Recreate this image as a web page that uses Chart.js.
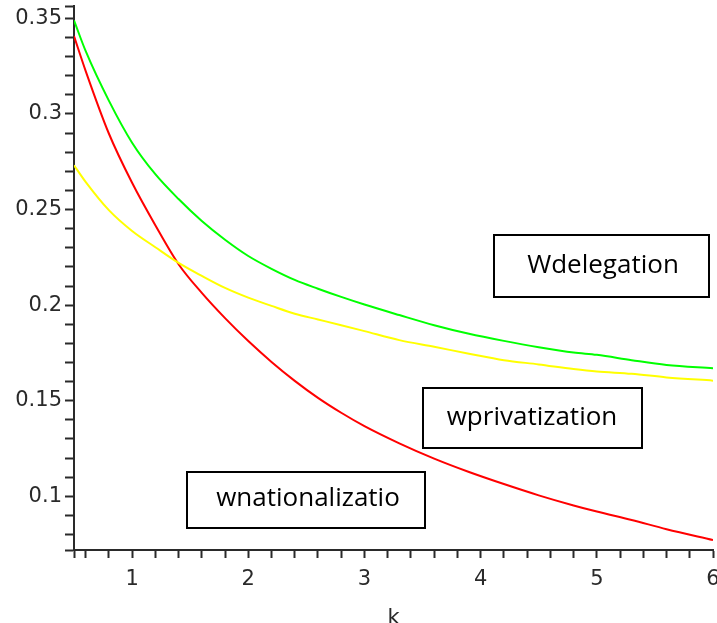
<!DOCTYPE html>
<html lang="en">
<head>
    <meta charset="UTF-8">
    <title>W curves vs k</title>
    <script src="https://cdn.jsdelivr.net/npm/chart.js"></script>
    <style>
        body { margin: 0; background: #fff; }
        #wrap { width: 717px; height: 623px; position: relative; }
    </style>
</head>
<body>
    <div id="wrap"><canvas id="wChart"></canvas></div>

    <script>
        const kValues = [0.5, 0.6, 0.8, 1.0, 1.2, 1.4, 1.6, 1.8, 2.0, 2.2, 2.4, 2.6,
                         2.8, 3.0, 3.3, 3.6, 3.9, 4.2, 4.5, 4.8, 5.0, 5.3, 5.6, 6.0];

        // green curve
        const wDelegation = [0.349, 0.333, 0.307, 0.285, 0.2685, 0.2555, 0.244, 0.2342, 0.2257, 0.219, 0.2132, 0.2086,
                             0.2043, 0.2003, 0.1948, 0.1895, 0.185, 0.1813, 0.178, 0.1752, 0.174, 0.1712, 0.1687, 0.167];
        // yellow curve
        const wPrivatization = [0.2732, 0.2645, 0.2497, 0.2388, 0.2303, 0.2221, 0.2153, 0.209, 0.2039, 0.1996, 0.1955, 0.1925,
                                0.1895, 0.1864, 0.1817, 0.1782, 0.1746, 0.1712, 0.169, 0.1666, 0.1653, 0.1641, 0.1622, 0.1605];
        // red curve
        const wNationalization = [0.3408, 0.3226, 0.2898, 0.264, 0.2418, 0.2214, 0.2064, 0.1932, 0.1812, 0.1703, 0.1604, 0.1515,
                                  0.1437, 0.1367, 0.1277, 0.1197, 0.1127, 0.1064, 0.1005, 0.0952, 0.092, 0.0876, 0.0828, 0.0771];

        // axis ranges and tick labels
        const kMin = 0.5, kMax = 6;
        const wMin = 0.0719, wMax = 0.3565;
        const kLabels = [1, 2, 3, 4, 5, 6];
        const wLabels = [0.1, 0.15, 0.2, 0.25, 0.3, 0.35];

        // text boxes pasted over the plot
        const boxLabels = ['Wdelegation', 'wprivatization', 'wnationalizatio'];

        const toPoints = arr => kValues.map((k, i) => ({ x: k, y: arr[i] }));

        // minor ticks every 0.2 on k and 0.01 on w, plus the axis ends
        function kTicks() {
            const t = [kMin];
            for (let i = 3; i <= 30; i++) t.push(+(i * 0.2).toFixed(2));
            return t;
        }
        function wTicks() {
            const t = [wMin];
            for (let i = 8; i <= 35; i++) t.push(+(i * 0.01).toFixed(2));
            t.push(wMax);
            return t;
        }
        const isLabel = (list, v) => list.some(l => Math.abs(l - v) < 1e-6);

        const axisColor = '#2a2a2a';
        const tickFont = { family: 'DejaVu Sans', size: 21 };

        // draws the boxed text labels
        const boxPlugin = {
            id: 'boxes',
            afterDraw(chart, args, opts) {
                const ctx = chart.ctx;
                ctx.save();
                opts.items.forEach(b => {
                    ctx.fillStyle = '#fff';
                    ctx.fillRect(b.x, b.y, b.w, b.h);
                    ctx.lineWidth = 2;
                    ctx.strokeStyle = '#000';
                    ctx.strokeRect(b.x, b.y, b.w, b.h);
                    ctx.fillStyle = '#000';
                    ctx.font = '26px "Open Sans"';
                    ctx.textAlign = 'center';
                    ctx.textBaseline = 'middle';
                    ctx.fillText(b.text, b.tx, b.ty);
                });
                ctx.restore();
            }
        };

        const ctx = document.getElementById('wChart').getContext('2d');
        new Chart(ctx, {
            type: 'line',
            data: {
                datasets: [
                    { label: 'Wdelegation', data: toPoints(wDelegation), borderColor: '#00ff00' },
                    { label: 'wprivatization', data: toPoints(wPrivatization), borderColor: '#ffff00' },
                    { label: 'wnationalizatio', data: toPoints(wNationalization), borderColor: '#ff0000' }
                ]
            },
            options: {
                responsive: true,
                maintainAspectRatio: false,
                animation: false,
                layout: { padding: { top: 6, right: 4, left: 0, bottom: 0 } },
                elements: {
                    point: { radius: 0 },
                    line: { borderWidth: 2, tension: 0.4, cubicInterpolationMode: 'monotone', fill: false }
                },
                plugins: {
                    legend: { display: false },
                    tooltip: { enabled: false },
                    boxes: {
                        items: [
                            { text: boxLabels[0], x: 494, y: 235, w: 215, h: 62, tx: 603, ty: 266 },
                            { text: boxLabels[1], x: 423, y: 388, w: 219, h: 60, tx: 532, ty: 418 },
                            { text: boxLabels[2], x: 187, y: 472, w: 238, h: 56, tx: 308, ty: 499 }
                        ]
                    }
                },
                scales: {
                    x: {
                        type: 'linear',
                        min: kMin,
                        max: kMax,
                        afterBuildTicks: axis => { axis.ticks = kTicks().map(v => ({ value: v })); },
                        afterFit: scale => { scale.height = 73; scale.paddingLeft = 0; scale.paddingRight = 0; },
                        grid: { drawOnChartArea: false, drawTicks: true, tickLength: 8, tickWidth: 2, tickColor: axisColor },
                        border: { display: true, color: axisColor, width: 2 },
                        ticks: {
                            autoSkip: false,
                            maxRotation: 0,
                            padding: 9,
                            color: axisColor,
                            font: tickFont,
                            callback: v => isLabel(kLabels, v) ? String(Math.round(v)) : ''
                        },
                        title: { display: true, text: 'k', color: axisColor, font: tickFont, padding: { top: 10, bottom: -8 } }
                    },
                    y: {
                        type: 'linear',
                        min: wMin,
                        max: wMax,
                        afterBuildTicks: axis => { axis.ticks = wTicks().map(v => ({ value: v })); },
                        afterFit: scale => { scale.width = 74; scale.paddingTop = 0; scale.paddingBottom = 0; },
                        grid: { drawOnChartArea: false, drawTicks: true, tickLength: 9, tickWidth: 2, tickColor: axisColor },
                        border: { display: true, color: axisColor, width: 2 },
                        ticks: {
                            autoSkip: false,
                            padding: 3,
                            color: axisColor,
                            font: tickFont,
                            callback: v => isLabel(wLabels, v) ? String(+v.toFixed(2)) : ''
                        }
                    }
                }
            },
            plugins: [boxPlugin]
        });
    </script>
</body>
</html>
